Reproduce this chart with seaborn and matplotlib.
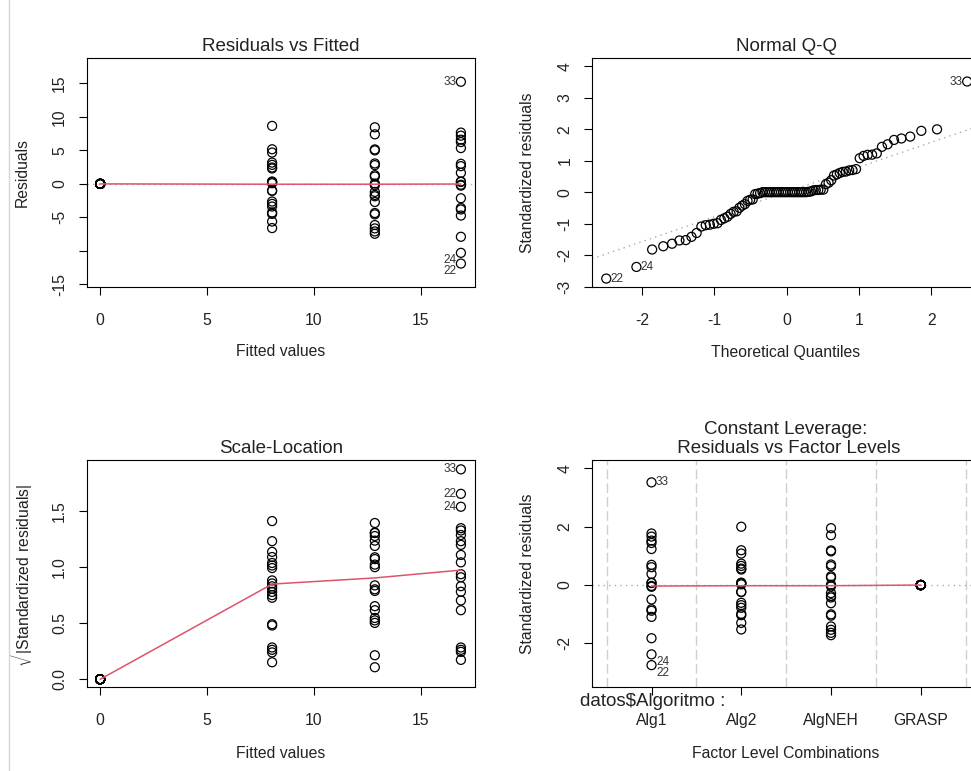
import numpy as np
import pandas as pd
import matplotlib
matplotlib.use("Agg")
import matplotlib.pyplot as plt
from matplotlib.lines import Line2D
import seaborn as sns
from statistics import NormalDist

# ---------------- data ----------------
levels = ["Alg1", "Alg2", "AlgNEH", "GRASP"]
fitted_by_level = [16.89, 8.05, 12.86, 0.0]

resid_alg1 = [15.25, 7.66, 7.2, 6.6, 6.25, 5.35, 3.0, 2.65, 1.65, 0.35, 0.3,
              -0.13, -0.26, -2.15, -3.6, -3.82, -4.73, -7.9, -10.3, -11.9]
resid_alg2 = [8.66, 5.17, 4.68, 3.18, 2.84, 2.45, 2.3, 0.35, 0.3, 0.25, 0.1,
              -1.0, -1.05, -2.64, -2.99, -3.38, -4.28, -4.48, -5.62, -6.6]
resid_algneh = [8.45, 7.4, 5.15, 5.0, 3.05, 2.8, 1.3, 1.1, 0.05, -0.2, -1.2,
                -1.65, -1.85, -2.7, -4.35, -4.55, -6.15, -6.65, -7.1, -7.45]
resid_grasp = [0.0] * 20

resid_scale = 4.34          # sigma * sqrt(1 - h), read from the std. residual axes

# labelled observations: (label, level, index in that level's list)
id_points = [("33", "Alg1", 0), ("24", "Alg1", 18), ("22", "Alg1", 19)]

# red smoother lines
rvf_smooth_x = [0.0, 8.05, 12.86, 16.89]
rvf_smooth_y = [0.0, -0.05, -0.05, -0.02]
sl_smooth_y = [0.0, 0.85, 0.905, 0.975]
lev_smooth_y = [-0.034, -0.023, -0.023, 0.0]   # Alg1, Alg2, AlgNEH, GRASP

# ---------------- build table ----------------
resid_lists = {"Alg1": resid_alg1, "Alg2": resid_alg2,
               "AlgNEH": resid_algneh, "GRASP": resid_grasp}
rows = []
for li, lev in enumerate(levels):
    for k, r in enumerate(resid_lists[lev]):
        lab = ""
        for (t, l2, k2) in id_points:
            if l2 == lev and k2 == k:
                lab = t
        rows.append(dict(level=lev, lpos=li + 1, fitted=fitted_by_level[li],
                         resid=r, label=lab))
df = pd.DataFrame(rows)
df["std"] = df["resid"] / resid_scale
df["sqrtabs"] = np.sqrt(np.abs(df["std"]))

n = len(df)
order = np.argsort(df["std"].values, kind="stable")
theo = np.array([NormalDist().inv_cdf((i - 0.5) / n) for i in range(1, n + 1)])
qq = pd.DataFrame({"theo": theo, "std": df["std"].values[order],
                   "label": df["label"].values[order]})
yq = np.quantile(df["std"].values, [0.25, 0.75])
xq = np.array([NormalDist().inv_cdf(0.25), NormalDist().inv_cdf(0.75)])
qq_slope = (yq[1] - yq[0]) / (xq[1] - xq[0])
qq_int = yq[0] - qq_slope * xq[0]

# ---------------- styling ----------------
sns.set_theme(style="white")
plt.rcParams["font.family"] = ["Liberation Sans", "DejaVu Sans"]
plt.rcParams["axes.unicode_minus"] = False
plt.rcParams["mathtext.fontset"] = "custom"
plt.rcParams["mathtext.rm"] = "Liberation Sans"

W, H = 971, 771
fig = plt.figure(figsize=(W / 100, H / 100), dpi=100)
fig.patch.set_facecolor("white")

FS = 11.3
TFS = 13.5
IDFS = 8.5
RED = "#DF536B"
TXT = "#222222"


def ax_at(l, t, r, b):
    return fig.add_axes([l / W, 1 - b / H, (r - l) / W, (b - t) / H])


def style_axes(ax):
    for s in ax.spines.values():
        s.set_color("black")
        s.set_linewidth(0.8)
        s.set_visible(True)
    ax.tick_params(direction="out", length=6, width=0.8, color="black",
                   labelsize=FS, labelcolor=TXT, bottom=True, left=True)
    ax.tick_params(axis="x", pad=13)
    ax.tick_params(axis="y", pad=8, labelrotation=90)
    for t in ax.get_yticklabels():
        t.set_va("center")
    ax.set_facecolor("white")
    ax.grid(False)


def circles(ax, x, y):
    sns.scatterplot(x=x, y=y, ax=ax, marker="o", s=42, color="black",
                    linewidth=0.9, legend=False, zorder=3)
    coll = ax.collections[-1]
    coll.set_facecolor("none")
    coll.set_edgecolor("black")


def id_text(ax, x, y, s, side, dy=0):
    if side == "left":
        ax.annotate(s, (x, y), xytext=(-4.5, dy), textcoords="offset pixels",
                    ha="right", va="center", fontsize=IDFS, color="#333333")
    else:
        ax.annotate(s, (x, y), xytext=(4.5, dy), textcoords="offset pixels",
                    ha="left", va="center", fontsize=IDFS, color="#333333")


def set_labels(ax, xl, yl, xly, ylx, frame):
    l, t, r, b = frame
    ax.set_xlabel(xl, fontsize=FS, color=TXT)
    ax.set_ylabel(yl, fontsize=FS, color=TXT)
    ax.xaxis.set_label_coords(0.5, (b - xly) / (b - t))
    ax.yaxis.set_label_coords((ylx - l) / (r - l), 0.5)
    ax.xaxis.label.set_va("center")
    ax.yaxis.label.set_va("center")


lab_df = df[df["label"] != ""]

# ---------------- 1: Residuals vs Fitted ----------------
f1 = (86.5, 58, 475, 287)
ax1 = ax_at(*f1)
ax1.axhline(0, color="#aaaaaa", ls=(0, (1, 3)), lw=1, zorder=1)
circles(ax1, df["fitted"], df["resid"])
sns.lineplot(x=rvf_smooth_x, y=rvf_smooth_y, ax=ax1, color=RED, lw=1.1,
             zorder=4, legend=False)
for _, rw in lab_df.iterrows():
    id_text(ax1, rw["fitted"], rw["resid"], rw["label"], "left",
            dy=-7.5 if rw["resid"] < 0 else 0)
ax1.set_xlim(-0.64, 17.55)
ax1.set_ylim(-15.4, 18.8)
ax1.set_xticks([0, 5, 10, 15])
ax1.set_xticklabels(["0", "5", "10", "15"])
ax1.set_yticks([-15, -10, -5, 0, 5, 10, 15])
ax1.set_yticklabels(["-15", "", "-5", "0", "5", "10", "15"])
style_axes(ax1)
ax1.set_title("Residuals vs Fitted", fontsize=TFS, color=TXT, pad=5)
set_labels(ax1, "Fitted values", "Residuals", 352, 22, f1)

# ---------------- 2: Normal Q-Q ----------------
f2 = (592, 58, 980, 287)
ax2 = ax_at(*f2)
ax2.axline((0, qq_int), slope=qq_slope, color="#aaaaaa", ls=(0, (1, 3)),
           lw=1, zorder=1)
circles(ax2, qq["theo"], qq["std"])
for _, rw in qq[qq["label"] != ""].iterrows():
    id_text(ax2, rw["theo"], rw["std"], rw["label"],
            "left" if rw["theo"] > 0 else "right")
ax2.set_xlim(-2.695, 2.675)
ax2.set_ylim(-3.01, 4.26)
ax2.set_xticks([-2, -1, 0, 1, 2])
ax2.set_xticklabels(["-2", "-1", "0", "1", "2"])
ax2.set_yticks([-3, -2, -1, 0, 1, 2, 3, 4])
ax2.set_yticklabels(["-3", "-2", "-1", "0", "1", "2", "3", "4"])
style_axes(ax2)
ax2.set_title("Normal Q-Q", fontsize=TFS, color=TXT, pad=5)
set_labels(ax2, "Theoretical Quantiles", "Standardized residuals", 352, 527, f2)

# ---------------- 3: Scale-Location ----------------
f3 = (86.5, 460, 475, 687)
ax3 = ax_at(*f3)
circles(ax3, df["fitted"], df["sqrtabs"])
sns.lineplot(x=rvf_smooth_x, y=sl_smooth_y, ax=ax3, color=RED, lw=1.1,
             zorder=4, legend=False)
for _, rw in lab_df.iterrows():
    id_text(ax3, rw["fitted"], rw["sqrtabs"], rw["label"], "left")
ax3.set_xlim(-0.64, 17.55)
ax3.set_ylim(-0.069, 1.958)
ax3.set_xticks([0, 5, 10, 15])
ax3.set_xticklabels(["0", "5", "10", "15"])
ax3.set_yticks([0, 0.5, 1.0, 1.5])
ax3.set_yticklabels(["0.0", "0.5", "1.0", "1.5"])
style_axes(ax3)
ax3.set_title("Scale-Location", fontsize=TFS, color=TXT, pad=5)
set_labels(ax3, "Fitted values", r"$\sqrt{|\mathrm{Standardized\ residuals}|}$",
           754, 22, f3)

# ---------------- 4: Residuals vs Factor Levels ----------------
f4 = (592, 460, 980, 687)
ax4 = ax_at(*f4)
for xb in [0.5, 1.5, 2.5, 3.5, 4.5]:
    ax4.axvline(xb, color="#cfcfcf", ls=(0, (7, 3)), lw=1, zorder=1)
ax4.axhline(0, color="#aaaaaa", ls=(0, (1, 3)), lw=1, zorder=1)
circles(ax4, df["lpos"], df["std"])
sns.lineplot(x=[1, 2, 3, 4], y=lev_smooth_y, ax=ax4, color=RED, lw=1.1,
             zorder=4, legend=False)
for _, rw in lab_df.iterrows():
    id_text(ax4, rw["lpos"], rw["std"], rw["label"], "right",
            dy=-7.5 if rw["std"] < 0 else 0)
ax4.set_xlim(0.337, 4.66)
ax4.set_ylim(-3.49, 4.28)
ax4.set_xticks([1, 2, 3, 4])
ax4.set_xticklabels(levels)
ax4.set_yticks([-2, 0, 2, 4])
ax4.set_yticklabels(["-2", "0", "2", "4"])
style_axes(ax4)
ax4.set_title("Constant Leverage:\n Residuals vs Factor Levels", fontsize=TFS,
              color=TXT, pad=5, linespacing=1.15)
set_labels(ax4, "Factor Level Combinations", "Standardized residuals",
           754, 527, f4)
fig.text(580 / W, 1 - 702 / H, "datos$Algoritmo :", fontsize=13.5,
         color=TXT, ha="left", va="center")

# thin gray rule on the far left
fig.add_artist(Line2D([8.5 / W, 8.5 / W], [0, 1], transform=fig.transFigure,
                      color="#d6d6d6", lw=1))

fig.savefig("out.png", dpi=100, facecolor="white")
